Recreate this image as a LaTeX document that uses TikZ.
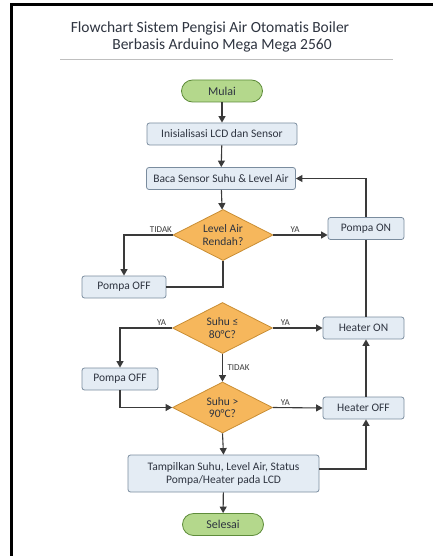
\documentclass[tikz,border=0pt]{standalone}
\usepackage{fontspec}
\setmainfont[Ligatures=NoCommon]{Carlito}
\usetikzlibrary{shapes.geometric,arrows.meta}
\definecolor{termfill}{HTML}{B4D88C}
\definecolor{termdraw}{HTML}{5E8C3A}
\definecolor{procfill}{HTML}{E4ECF4}
\definecolor{procdraw}{HTML}{7A8C9E}
\definecolor{decfill}{HTML}{F6B75C}
\definecolor{decdraw}{HTML}{C98E34}
\definecolor{linecol}{HTML}{3A3A3A}
\definecolor{textcol}{HTML}{2E3440}
\begin{document}
\begin{tikzpicture}[x=1pt, y=-1pt, >={Triangle[length=6.5pt,width=7pt]},
	every node/.style={text=textcol},
	terminal/.style={draw=termdraw, fill=termfill, line width=0.8pt, rounded corners=11pt, minimum width=81pt, minimum height=22pt, inner sep=0pt, font=\fontsize{12}{13}\selectfont},
	process/.style={draw=procdraw, fill=procfill, line width=0.8pt, rounded corners=2.5pt, minimum height=22pt, inner sep=0pt, font=\fontsize{11.5}{13}\selectfont, align=center},
	decision/.style={diamond, aspect=2, draw=decdraw, fill=decfill, line width=0.8pt, minimum width=100pt, minimum height=51pt, inner sep=0pt, font=\fontsize{11.5}{12.5}\selectfont, align=center},
	flow/.style={draw=linecol, line width=1.1pt},
	lbl/.style={font=\fontsize{9}{10}\selectfont, text=linecol, inner sep=1.5pt}]
	\useasboundingbox (0,0) rectangle (433,556);
	% 边框与标题
	\draw[line width=3pt, black] (11.5,556) -- (11.5,4.5) -- (433,4.5);
	\node[font=\fontsize{15.5}{17}\selectfont] (judul1) at (210,28) {Flowchart Sistem Pengisi Air Otomatis Boiler};
	\node[font=\fontsize{15.5}{17}\selectfont] (judul2) at (222,45.5) {Berbasis Arduino Mega Mega 2560};
	\draw[gray!50, line width=0.6pt] (60,59.5) -- (393,59.5);
	
	% 主流程
	\node[terminal] (mulai) at (222,91) {Mulai};
	\node[process, minimum width=150pt] (init) at (222,134) {Inisialisasi LCD dan Sensor};
	\node[process, minimum width=149pt] (baca) at (221,178.5) {Baca Sensor Suhu \& Level Air};
	\node[decision] (level) at (223,235) {Level Air\\Rendah?};
	\node[process, minimum width=84pt] (pompaoff1) at (124,287) {Pompa OFF};
	\node[process, minimum width=76pt] (pompaon) at (366,228.5) {Pompa ON};
	\node[decision] (suhu1) at (222.5,328) {Suhu ≤\\80°C?};
	\node[process, minimum width=76pt] (pompaoff2) at (120,379) {Pompa OFF};
	\node[process, minimum width=81pt] (heateron) at (363.5,328) {Heater ON};
	\node[decision] (suhu2) at (222.5,407.5) {Suhu >\\90°C?};
	\node[process, minimum width=81pt] (heateroff) at (363.5,408) {Heater OFF};
	\node[process, minimum width=191pt, minimum height=37pt] (tampil) at (223.5,473.5) {Tampilkan Suhu, Level Air, Status\\Pompa/Heater pada LCD};
	\node[terminal] (selesai) at (223,524.5) {Selesai};
	
	% 箭头
	\draw[flow, ->] (mulai) -- (init);
	\draw[flow, ->] (init) -- (baca);
	\draw[flow, ->] (baca) -- (level);
	\draw[flow, ->] (level.west) -| node[lbl, pos=0.12, above] {TIDAK} (pompaoff1.north);
	\draw[flow] (level.south) |- (pompaoff1.east);
	\draw[flow, ->] (level.east) -- node[lbl, pos=0.4, above] {YA} (level.east -| pompaon.west);
	\draw[flow, ->] (pompaon.north) |- (baca.east);
	\draw[flow] (pompaon.south) -- (heateron.north -| pompaon.south);
	\draw[flow, ->] (suhu1.west) -| node[lbl, pos=0.1, above] {YA} (pompaoff2.north);
	\draw[flow, ->] (suhu1.east) -- node[lbl, pos=0.25, above] {YA} (heateron.west);
	\draw[flow, ->] (suhu1.south) -- node[lbl, right=3pt] {TIDAK} (suhu2.north);
	\draw[flow, ->] (pompaoff2.south) |- (suhu2.west);
	\draw[flow, ->] (suhu2.east) -- node[lbl, pos=0.25, above] {YA} (heateroff.west);
	\draw[flow, ->] (heateroff.north -| pompaon.south) -- (heateron.south -| pompaon.south);
	\draw[flow, ->] (suhu2.south) -- (tampil.north);
	\draw[flow, ->] ([yshift=4.5pt]tampil.east) -| (heateroff.south -| pompaon.south);
	\draw[flow, ->] (tampil) -- (selesai);
\end{tikzpicture}
\end{document}
